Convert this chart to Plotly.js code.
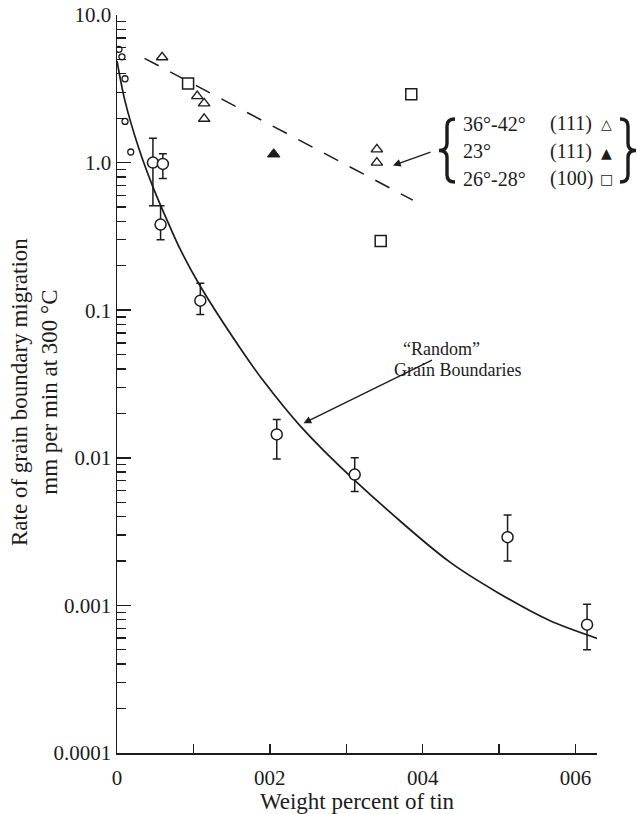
<!DOCTYPE html>
<html>
<head>
<meta charset="utf-8">
<script src="https://cdn.plot.ly/plotly-3.0.1.min.js"></script>
<style>html,body{margin:0;padding:0;background:#fff;}#chart{width:638px;height:814px;}</style>
</head>
<body>
<div id="chart"></div>
<script>
// ---- data ----
// "Random" grain boundaries, large circles with error bars
const randX    = [0.0047, 0.0060, 0.0057, 0.0109, 0.0209, 0.0311, 0.0511, 0.0615];
const randY    = [1.00, 0.98, 0.38, 0.116, 0.0144, 0.0077, 0.0029, 0.00074];
const randHigh = [1.46, 1.15, 0.51, 0.152, 0.0182, 0.0100, 0.0041, 0.00102];
const randLow  = [0.51, 0.78, 0.30, 0.0935, 0.0098, 0.0059, 0.0020, 0.00050];
// small circles near zero tin
const smallX = [0.00026, 0.00065, 0.00105, 0.00105, 0.0018];
const smallY = [5.85, 5.21, 3.70, 1.90, 1.18];
// special boundaries
const tri111X = [0.0059, 0.0105, 0.0114, 0.0114, 0.0340, 0.0340];
const tri111Y = [5.17, 2.82, 2.52, 1.98, 1.23, 1.00];
const fill111X = [0.0205];
const fill111Y = [1.14];
const sq100X = [0.0093, 0.0345, 0.0385];
const sq100Y = [3.44, 0.294, 2.91];
// dashed trend line through special boundaries
const dashX = [0.0036, 0.0387];
const dashY = [5.09, 0.557];
// curve for random boundaries
const curveX = [0, 0.00101, 0.00284, 0.00471, 0.00689, 0.00833, 0.01082, 0.01648, 0.0191, 0.0239, 0.0311, 0.04352, 0.05006, 0.0566, 0.06323];
const curveY = [4.88, 2.66, 1.254, 0.682, 0.371, 0.255, 0.1477, 0.0519, 0.0335, 0.0166, 0.00704, 0.00197, 0.00120, 0.00079, 0.000588];
// ticks
const xTickVals = [0, 0.01, 0.02, 0.03, 0.04, 0.05, 0.06];
const xTickText = ['0', '', '002', '', '004', '', '006'];
const yTickVals = [0.0001, 0.001, 0.01, 0.1, 1, 10];
const yTickText = ['0.0001', '0.001', '0.01', '0.1', '1.0', '10.0'];
// legend block
const legAngles = ['36°-42°', '23°', '26°-28°'];
const legPlanes = ['(111)', '(111)', '(100)'];
const legSymbols = ['△', '▲', '□'];

// ---- layout helpers ----
const W = 638, H = 814;
const M = {l: 117, r: 41, t: 15, b: 61};
const PW = W - M.l - M.r, PH = H - M.t - M.b;
const px = x => (x - M.l) / PW;
const py = y => (H - M.b - y) / PH;
const INK = '#1c1c1c';
const FONT = "'Liberation Serif', 'Times New Roman', serif";

const minorVals = [];
for (let e = -4; e < 1; e++) for (let d = 2; d <= 9; d++) minorVals.push(d * Math.pow(10, e));

// brace drawn as a path (s = +1 opens right "{", s = -1 opens left "}")
function bracePath(cx, top, bot, s) {
  const mid = (top + bot) / 2, hw = 8, r = 7;
  const P = (x, y) => px(x).toFixed(5) + ',' + py(y).toFixed(5);
  return 'M' + P(cx + s * hw, top) +
    ' Q' + P(cx, top) + ' ' + P(cx, top + r) +
    ' L' + P(cx, mid - r) +
    ' Q' + P(cx, mid) + ' ' + P(cx - s * hw, mid) +
    ' Q' + P(cx, mid) + ' ' + P(cx, mid + r) +
    ' L' + P(cx, bot - r) +
    ' Q' + P(cx, bot) + ' ' + P(cx + s * hw, bot);
}

const traces = [
  {x: curveX, y: curveY, mode: 'lines', line: {color: INK, width: 1.7, shape: 'spline', smoothing: 0.9}, hoverinfo: 'skip'},
  {x: dashX, y: dashY, mode: 'lines', line: {color: INK, width: 1.5, dash: '16px,13px'}, hoverinfo: 'skip'},
  {x: randX, y: randY, mode: 'markers',
   marker: {symbol: 'circle', size: 11, color: '#fff', line: {color: INK, width: 1.5}},
   error_y: {type: 'data', symmetric: false,
             array: randHigh.map((h, i) => h - randY[i]),
             arrayminus: randLow.map((l, i) => randY[i] - l),
             color: INK, thickness: 1.5, width: 4}},
  {x: smallX, y: smallY, mode: 'markers', marker: {symbol: 'circle', size: 6, color: '#fff', line: {color: INK, width: 1.3}}},
  {x: tri111X, y: tri111Y, mode: 'markers', marker: {symbol: 'triangle-up', size: 10, color: '#fff', line: {color: INK, width: 1.4}}},
  {x: fill111X, y: fill111Y, mode: 'markers', marker: {symbol: 'triangle-up', size: 11, color: INK, line: {color: INK, width: 1}}},
  {x: sq100X, y: sq100Y, mode: 'markers', marker: {symbol: 'square', size: 11, color: '#fff', line: {color: INK, width: 1.5}}}
];

const ann = [];
// legend block
const rowY = [123.5, 151.5, 178.5];
for (let i = 0; i < 3; i++) {
  ann.push({xref: 'paper', yref: 'paper', x: px(461), y: py(rowY[i]), xanchor: 'left', yanchor: 'middle',
            text: legAngles[i], showarrow: false, font: {family: FONT, size: 20, color: INK}});
  ann.push({xref: 'paper', yref: 'paper', x: px(548), y: py(rowY[i]), xanchor: 'left', yanchor: 'middle',
            text: legPlanes[i], showarrow: false, font: {family: FONT, size: 20, color: INK}});
  ann.push({xref: 'paper', yref: 'paper', x: px(606), y: py(rowY[i] + 1), xanchor: 'center', yanchor: 'middle',
            text: legSymbols[i], showarrow: false, font: {family: 'DejaVu Sans', size: 14, color: INK}});
}
// legend arrow
ann.push({xref: 'paper', yref: 'paper', x: px(393), y: py(165.5), axref: 'pixel', ayref: 'pixel',
          ax: 39, ay: -14, text: '', showarrow: true, arrowhead: 2, arrowsize: 1.1, arrowwidth: 1.4, arrowcolor: INK});
// "Random" grain boundaries label
ann.push({xref: 'paper', yref: 'paper', x: px(441), y: py(349), xanchor: 'center', yanchor: 'middle',
          text: '“Random”', showarrow: false, font: {family: FONT, size: 18, color: INK}});
ann.push({xref: 'paper', yref: 'paper', x: px(457), y: py(370), xanchor: 'center', yanchor: 'middle',
          text: 'Grain Boundaries', showarrow: false, font: {family: FONT, size: 18, color: INK}});
ann.push({xref: 'paper', yref: 'paper', x: px(303.5), y: py(423.3), axref: 'pixel', ayref: 'pixel',
          ax: 130, ay: -64, text: '', showarrow: true, arrowhead: 2, arrowsize: 1.1, arrowwidth: 1.4, arrowcolor: INK});
// y-axis title (two lines)
ann.push({xref: 'paper', yref: 'paper', x: px(34), y: py(392), xanchor: 'center', yanchor: 'middle', textangle: -90,
          text: 'Rate of grain boundary migration<br>mm per min at 300 °C', showarrow: false,
          font: {family: FONT, size: 23, color: INK}});

const shapes = [
  {type: 'path', xref: 'paper', yref: 'paper', path: bracePath(447, 119, 182, 1), line: {color: INK, width: 3.4}},
  {type: 'path', xref: 'paper', yref: 'paper', path: bracePath(628, 119, 182, -1), line: {color: INK, width: 3.4}}
];

const layout = {
  width: W, height: H,
  margin: M,
  paper_bgcolor: '#fff', plot_bgcolor: '#fff',
  showlegend: false,
  font: {family: FONT, size: 20, color: INK},
  xaxis: {
    range: [0, 0.0628], showgrid: false, zeroline: false,
    showline: true, linecolor: INK, linewidth: 1.5,
    ticks: 'inside', ticklen: 9, tickwidth: 1.5, tickcolor: INK,
    tickmode: 'array', tickvals: xTickVals, ticktext: xTickText,
    tickfont: {family: FONT, size: 21, color: INK}, ticklabelstandoff: 5,
    title: {text: 'Weight percent of tin', font: {family: FONT, size: 23, color: INK}, standoff: 5}
  },
  yaxis: {
    type: 'log', range: [-4, 1], showgrid: false, zeroline: false,
    showline: true, linecolor: INK, linewidth: 1.5,
    ticks: 'inside', ticklen: 14, tickwidth: 1.5, tickcolor: INK,
    tickmode: 'array', tickvals: yTickVals, ticktext: yTickText,
    tickfont: {family: FONT, size: 21, color: INK},
    minor: {tickmode: 'array', tickvals: minorVals, ticks: 'inside', ticklen: 9, tickwidth: 1.3, tickcolor: INK, showgrid: false}
  },
  shapes: shapes,
  annotations: ann
};

Plotly.newPlot('chart', traces, layout, {staticPlot: true, displayModeBar: false});
</script>
</body>
</html>
